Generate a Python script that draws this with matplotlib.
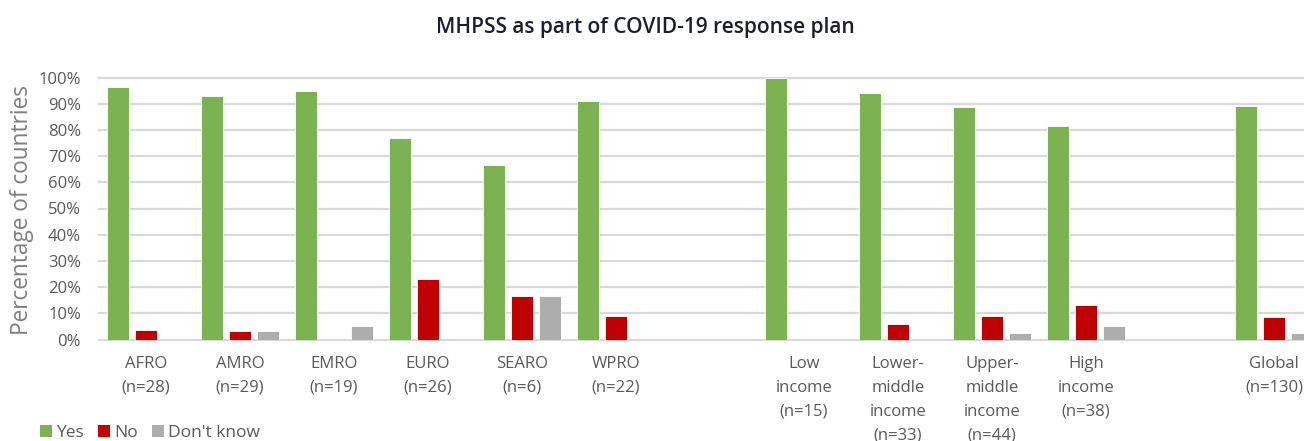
"""
MHPSS as part of COVID-19 response plan - clustered bar chart
"""

import matplotlib

matplotlib.use("Agg")
import matplotlib.pyplot as plt
from matplotlib.patches import Patch
from matplotlib.ticker import FuncFormatter
import numpy as np

plt.rcParams["font.family"] = ["Open Sans", "DejaVu Sans"]

# ── data ─────────────────────────────────────────────────────────────────────
regions = ["AFRO\n(n=28)", "AMRO\n(n=29)", "EMRO\n(n=19)", "EURO\n(n=26)",
           "SEARO\n(n=6)", "WPRO\n(n=22)"]
incomes = ["Low\nincome\n(n=15)", "Lower-\nmiddle\nincome\n(n=33)",
           "Upper-\nmiddle\nincome\n(n=44)", "High\nincome\n(n=38)"]
overall = ["Global\n(n=130)"]

yes = [96.4, 93.1, 94.7, 76.9, 66.7, 90.9, 100.0, 93.9, 88.6, 81.6, 89.2]
no = [3.6, 3.4, 0.0, 23.1, 16.7, 9.1, 0.0, 6.1, 9.1, 13.2, 8.5]
dont_know = [0.0, 3.4, 5.3, 0.0, 16.7, 0.0, 0.0, 0.0, 2.3, 5.3, 2.3]

series_names = ["Yes", "No", "Don't know"]
colors = ["#7cb352", "#c00000", "#adadad"]

# ── layout: one empty slot between the blocks ────────────────────────────────
labels = regions + incomes + overall
x = np.concatenate([
    np.arange(len(regions)),
    np.arange(len(incomes)) + len(regions) + 1,
    np.arange(len(overall)) + len(regions) + len(incomes) + 2,
])
n_slots = int(x.max()) + 1

W, H = 1304, 441
fig = plt.figure(figsize=(W / 100, H / 100), dpi=100)
ax = fig.add_axes([99 / W, (H - 339.5) / H, n_slots * 94 / W, 262 / H])

bar_w = 0.235
step = 0.298
for i, (vals, col) in enumerate(zip([yes, no, dont_know], colors)):
    ax.bar(x + (i - 1) * step, vals, width=bar_w, color=col,
           edgecolor="white", linewidth=0.6, zorder=3)

ax.set_xlim(-0.5, n_slots - 0.5)
ax.set_ylim(0, 100)
ax.set_yticks(np.arange(0, 101, 10))
ax.yaxis.set_major_formatter(FuncFormatter(lambda v, _: f"{v:.0f}%"))
ax.grid(axis="y", color="#d9d9d9", linewidth=1.6, zorder=0)
for line in ax.get_ygridlines():
    line.set_clip_on(False)
for s in ax.spines.values():
    s.set_visible(False)

ax.set_xticks(x)
ax.set_xticklabels(labels, linespacing=1.65)
ax.tick_params(axis="x", length=0, pad=12, labelsize=12, colors="#595959")
ax.tick_params(axis="y", length=0, pad=13, labelsize=12, colors="#595959")

fig.text(22 / W, 1 - 210 / H, "Percentage of countries", rotation=90,
         ha="center", va="center", fontsize=16.3, color="#7f7f7f")
fig.text(645 / W, 1 - 28 / H, "MHPSS as part of COVID-19 response plan",
         ha="center", va="center", fontsize=15, fontweight="semibold",
         color="#1a1f2b")

handles = [Patch(facecolor=c, edgecolor="none") for c in colors]
fig.legend(handles, series_names, loc="center left",
           bbox_to_anchor=(24 / W, 1 - 433 / H), ncol=3, frameon=False,
           fontsize=12.5, handlelength=0.7, handleheight=0.7,
           handletextpad=0.25, columnspacing=0.8, labelcolor="#595959")

fig.savefig("out.png", dpi=100)
